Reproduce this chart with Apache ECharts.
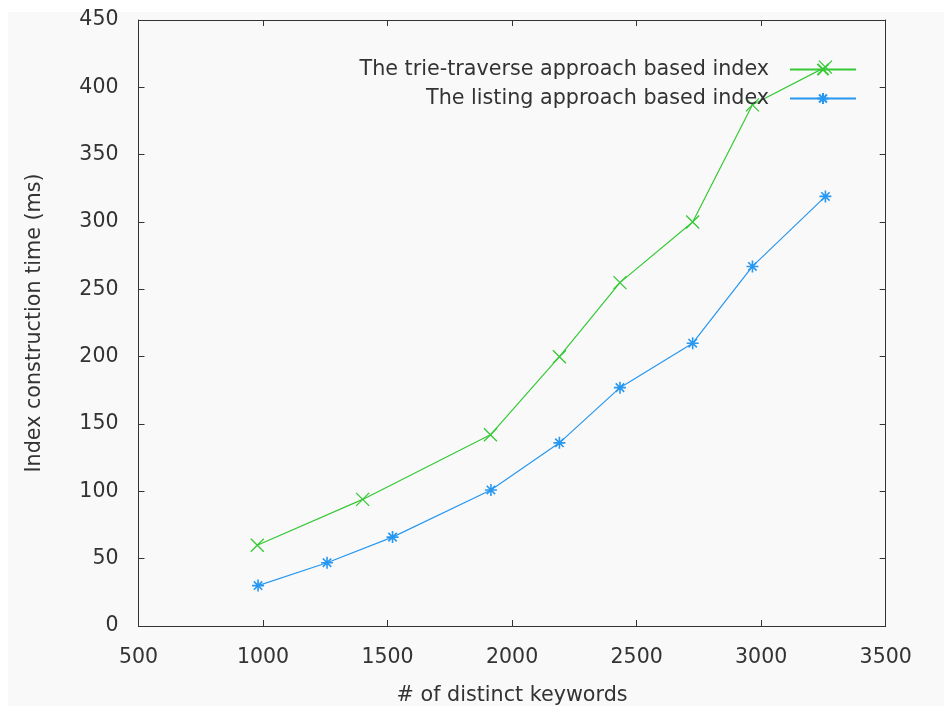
<!DOCTYPE html>
<html>
<head>
<meta charset="utf-8">
<script src="https://cdn.jsdelivr.net/npm/echarts@6/dist/echarts.min.js"></script>
<style>
html,body{margin:0;padding:0;background:#ffffff;}
#chart{width:944px;height:706px;}
</style>
</head>
<body>
<div id="chart"></div>
<script>
const trieName = 'The trie-traverse approach based index';
const listName = 'The listing approach based index';
const trieX = [977, 1400, 1913, 2190, 2433, 2725, 2965, 3258];
const trieY = [60, 94, 142, 200, 255, 300, 387, 415];
const listX = [980, 1257, 1520, 1915, 2190, 2433, 2725, 2965, 3258];
const listY = [30, 47, 66, 101, 136, 177, 210, 267, 319];
const xTicks = [500, 1000, 1500, 2000, 2500, 3000, 3500];
const yTicks = [0, 50, 100, 150, 200, 250, 300, 350, 400, 450];

const green = '#35c935';
const blue = '#2797f0';
const crossPath = 'path://M0,0L10,10M10,0L0,10';
const starPath = 'path://M5,0L5,10M0,5L10,5M1.5,1.5L8.5,8.5M8.5,1.5L1.5,8.5';
const font = 'DejaVu Sans';
const fs = 20.5;
const fsName = 20.7;
const textColor = '#333333';

const chart = echarts.init(document.getElementById('chart'), null, {renderer: 'canvas'});

const baseX = {
  type: 'value', min: xTicks[0], max: xTicks[xTicks.length - 1], interval: 500,
  splitLine: {show: false},
  axisLine: {show: true, onZero: false, lineStyle: {color: '#333', width: 1}},
  axisTick: {show: true, inside: true, length: 6, lineStyle: {color: '#333'}},
};
const baseY = {
  type: 'value', min: yTicks[0], max: yTicks[yTicks.length - 1], interval: 50,
  splitLine: {show: false},
  axisLine: {show: true, onZero: false, lineStyle: {color: '#333', width: 1}},
  axisTick: {show: true, inside: true, length: 6, lineStyle: {color: '#333'}},
};

chart.setOption({
  backgroundColor: '#ffffff',
  animation: false,
  graphic: [{
    type: 'rect', left: 8, top: 12, z: -10,
    shape: {width: 936, height: 694},
    style: {fill: '#f9f9f9'}
  }],
  grid: {left: 138.5, right: 58.3, top: 20, bottom: 80, containLabel: false, outerBoundsMode: 'none'},
  legend: [
    {
      data: [trieName], right: 87, top: 59, orient: 'vertical', align: 'right',
      padding: 0, itemWidth: 66, itemHeight: 14,
      textStyle: {fontFamily: font, fontSize: fsName, color: textColor, padding: [0, 16, 0, 0]}
    },
    {
      data: [listName], right: 87, top: 88, orient: 'vertical', align: 'right',
      padding: 0, itemWidth: 66, itemHeight: 14,
      textStyle: {fontFamily: font, fontSize: fsName, color: textColor, padding: [0, 16, 0, 0]}
    }
  ],
  xAxis: [
    Object.assign({}, baseX, {
      position: 'bottom',
      name: '# of distinct keywords', nameLocation: 'middle', nameGap: 59,
      nameTextStyle: {fontFamily: font, fontSize: fsName, color: textColor},
      axisLabel: {fontFamily: font, fontSize: fs, color: textColor, margin: 21,
        formatter: v => xTicks.includes(v) ? String(v) : ''}
    }),
    Object.assign({}, baseX, {position: 'top', axisLabel: {show: false}})
  ],
  yAxis: [
    Object.assign({}, baseY, {
      position: 'left',
      name: 'Index construction time (ms)', nameLocation: 'middle', nameGap: 93,
      nameTextStyle: {fontFamily: font, fontSize: fsName, color: textColor},
      axisLabel: {fontFamily: font, fontSize: fs, color: textColor, margin: 20,
        formatter: v => yTicks.includes(v) ? String(v) : ''}
    }),
    Object.assign({}, baseY, {position: 'right', axisLabel: {show: false}})
  ],
  series: [
    {
      name: trieName, type: 'line', xAxisIndex: 0, yAxisIndex: 0,
      data: trieX.map((x, i) => [x, trieY[i]]),
      symbol: crossPath, symbolSize: 13,
      lineStyle: {color: green, width: 1.2},
      itemStyle: {color: 'rgba(0,0,0,0)', borderColor: green, borderWidth: 1.3},
      emphasis: {disabled: true}
    },
    {
      name: listName, type: 'line', xAxisIndex: 0, yAxisIndex: 0,
      data: listX.map((x, i) => [x, listY[i]]),
      symbol: starPath, symbolSize: 12,
      lineStyle: {color: blue, width: 1.2},
      itemStyle: {color: 'rgba(0,0,0,0)', borderColor: blue, borderWidth: 1.6},
      emphasis: {disabled: true}
    }
  ]
});
</script>
</body>
</html>
